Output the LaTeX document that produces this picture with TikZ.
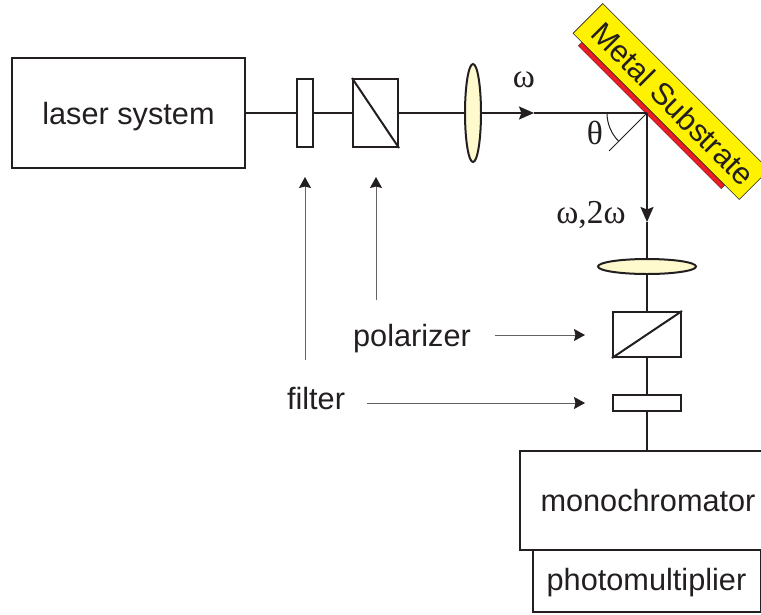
\documentclass[tikz,border=0pt]{standalone}
\usepackage{fontspec}
\setmainfont{Liberation Sans}
\newfontfamily\greekfont{Liberation Serif}
\usetikzlibrary{positioning,arrows.meta,shapes.geometric}
\definecolor{lensbg}{RGB}{255,250,205}
\definecolor{ink}{RGB}{35,31,32}
\definecolor{mirrorbg}{RGB}{255,242,0}
\definecolor{mirrorred}{RGB}{237,28,36}

\begin{document}
\begin{tikzpicture}[x=1pt,y=-1pt,font=\fontsize{30.7}{34}\selectfont,text=ink,
  box/.style={draw=ink,line width=2pt,fill=white,inner sep=0pt,align=center,text depth=0pt},
  lens/.style={draw=ink,line width=2pt,fill=lensbg,ellipse,inner sep=0pt},
  beam/.style={draw=ink,line width=2pt},
  arr/.style={ink,line width=2pt,-{Stealth[length=15pt,width=13pt,inset=2.5pt]}},
  lbl/.style={ink!70,line width=1pt,-{Stealth[length=11pt,width=12pt,inset=1.5pt,color=ink]}},
  sym/.style={font=\greekfont\fontsize{33.5}{36}\selectfont,inner sep=0pt}]
\clip (0,0) rectangle (761,614);
% mirror
\node[draw=ink,line width=0.3pt,fill=mirrorred,rotate=-45,minimum width=202pt,minimum height=5pt,inner sep=0pt] (film) at (651.5,115.5) {};
\node[draw=ink,line width=0.6pt,fill=mirrorbg,rotate=-45,minimum width=235pt,minimum height=42pt,inner sep=0pt] (substrate) at (671,101.5) {\hspace{6pt}Metal Substrate};
\coordinate (spot) at (647,113);
% horizontal arm
\node[box,minimum width=233pt,minimum height=110pt] (laser) at (128.5,113) {laser system};
\node[box,minimum width=16pt,minimum height=68pt] (filtA) at (305,113) {};
\node[box,minimum width=45pt,minimum height=68pt] (polA) at (375.5,113) {};
\node[lens,minimum width=16pt,minimum height=98pt] (lensA) at (473,113) {};
\coordinate (tipA) at (534,113);
\draw[beam] (laser.east) -- (filtA.west);
\draw[beam] (filtA.east) -- (polA.west);
\draw[beam] (polA.east) -- (lensA.west);
\draw[beam] (polA.north west) -- (polA.south east);
\draw[arr] (lensA.east) -- (tipA);
\draw[beam] (tipA) -- (spot);
% vertical arm
\node[lens,minimum width=98pt,minimum height=15pt] (lensB) at (647,266.5) {};
\node[box,minimum width=68pt,minimum height=45pt] (polB) at (647,334.5) {};
\node[box,minimum width=68pt,minimum height=16pt] (filtB) at (647,403) {};
\node[box,minimum width=260pt,minimum height=99pt] (mono) at (650,500) {};
\node[box,minimum width=228pt,minimum height=62pt,text depth=2.5pt] (photo) at (646.5,581) {photomultiplier};
\node (monotext) at (648,501) {monochromator};
\coordinate (tipB) at (647,222);
\coordinate (monoin) at (647,450);
\draw[arr] (spot) -- (tipB);
\draw[beam] (tipB) -- (lensB.north);
\draw[beam] (lensB.south) -- (polB.north);
\draw[beam] (polB.south) -- (filtB.north);
\draw[beam] (filtB.south) -- (monoin);
\draw[beam] (polB.south west) -- (polB.north east);
% incidence angle
\coordinate (normal) at (609,151);
\draw[ink,line width=1pt] (spot) -- (normal);
\draw[ink,line width=1pt] (607,113) arc[start angle=180,end angle=225,radius=40pt];
\node[sym] (theta) at (595,133) {θ};
\node[sym] (omegaA) at (524,80) {ω};
\node[sym] (omegaB) at (591,215) {ω,2ω};
% labels
\node[text depth=0pt] (polarizer) at (412,335) {polarizer};
\node[text depth=0pt] (filter) at (316,398) {filter};
\coordinate (polfoot) at (376,300);
\coordinate (filtfoot) at (305,360);
\coordinate (poltip) at (376,177);
\coordinate (filttip) at (305,177);
\coordinate (polstart) at (495,335);
\coordinate (filtstart) at (367,403);
\coordinate (polend) at (585,335);
\coordinate (filtend) at (585,403);
\draw[lbl] (polfoot) -- (poltip);
\draw[lbl] (filtfoot) -- (filttip);
\draw[lbl] (polstart) -- (polend);
\draw[lbl] (filtstart) -- (filtend);
\end{tikzpicture}
\end{document}
